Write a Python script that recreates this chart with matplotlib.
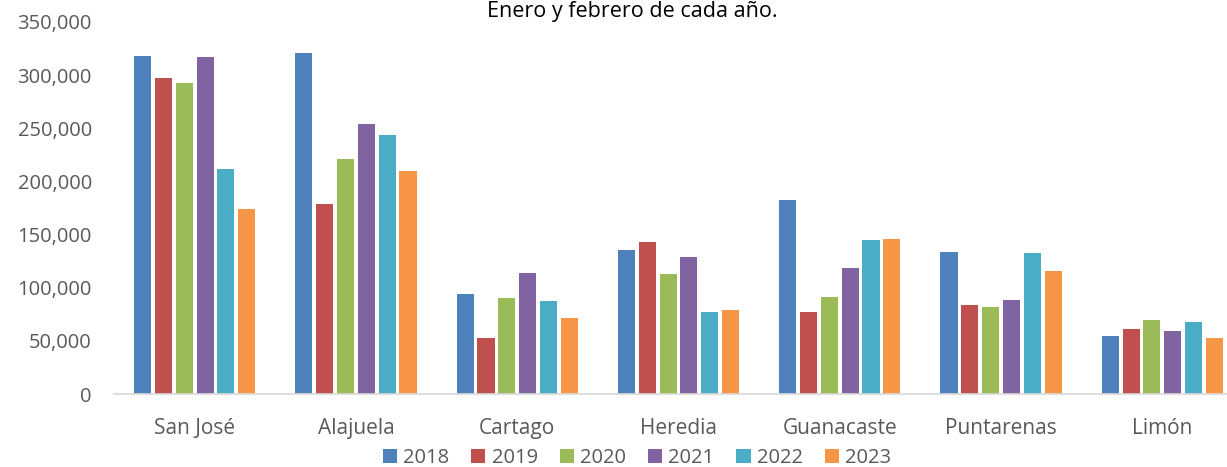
import matplotlib
matplotlib.use("Agg")
import matplotlib.pyplot as plt
import numpy as np
from matplotlib.ticker import FuncFormatter

categories = ["San José", "Alajuela", "Cartago", "Heredia", "Guanacaste", "Puntarenas", "Limón"]
years = ["2018", "2019", "2020", "2021", "2022", "2023"]
v2018 = [318200, 320700, 94300, 135800, 182700, 134000, 54100]
v2019 = [297200, 179000, 53100, 143400, 77400, 83300, 61000]
v2020 = [292700, 221000, 90300, 113200, 90900, 81400, 69500]
v2021 = [317000, 254400, 113800, 128600, 118500, 88700, 59700]
v2022 = [211600, 243400, 87400, 77400, 145300, 133000, 68200]
v2023 = [173900, 210100, 71400, 79200, 146200, 115400, 52500]
series = [v2018, v2019, v2020, v2021, v2022, v2023]
colors = ["#4F81BD", "#C0504D", "#9BBB59", "#8064A2", "#4BACC6", "#F79646"]
title = "Enero y febrero de cada año."

plt.rcParams['font.family'] = ['Open Sans', 'DejaVu Sans']
fig = plt.figure(figsize=(12.27, 4.67), dpi=100)
ax = fig.add_axes([114/1227, 73/467, 1129/1227, 372/467])

x = np.arange(len(categories))
group = 0.775
w = group / len(series)
for i, (vals, c, yr) in enumerate(zip(series, colors, years)):
    ax.bar(x - group/2 + w*(i+0.5), vals, width=w*0.82, color=c, linewidth=0,
           label=yr, zorder=2)

ax.set_xlim(-0.5, len(categories) - 0.5)
ax.set_ylim(0, 350000)
ax.set_yticks(np.arange(0, 350001, 50000))
ax.yaxis.set_major_formatter(FuncFormatter(lambda v, p: f"{int(v):,}"))
ax.set_xticks(x)
ax.set_xticklabels(categories)
ax.tick_params(axis='both', length=0, colors='#595959')
ax.tick_params(axis='x', pad=17, labelsize=15)
ax.tick_params(axis='y', pad=16, labelsize=14.5)
for s in ['top', 'right', 'left']:
    ax.spines[s].set_visible(False)
ax.spines['bottom'].set_color('#D9D9D9')
ax.spines['bottom'].set_linewidth(1.2)
ax.spines['bottom'].set_zorder(3)

fig.text(632/1227, 1 - 17/467, title, ha='center', va='baseline', fontsize=15.5, color='black')

leg = fig.legend(loc='center', bbox_to_anchor=(637/1227, 1 - 458/467), ncol=6, frameon=False,
                 fontsize=14.5, handlelength=0.7, handleheight=0.7, handletextpad=0.3,
                 columnspacing=1.1, labelcolor='#595959')

fig.savefig("out.png", dpi=100)
